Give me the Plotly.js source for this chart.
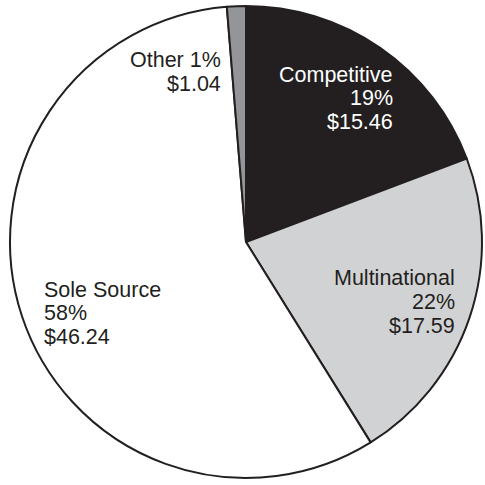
<!DOCTYPE html>
<html>
<head>
<meta charset="utf-8">
<script src="https://cdn.plot.ly/plotly-3.0.1.min.js"></script>
<style>html,body{margin:0;padding:0;background:#fff;}#chart{width:485px;height:485px;}</style>
</head>
<body>
<div id="chart"></div>
<script>
// Data
const categories = ["Competitive", "Multinational", "Sole Source", "Other"];
const values = [15.46, 17.59, 46.24, 1.04];
const pctLabels = ["19%", "22%", "58%", "1%"];
const colors = ["#231f20", "#d1d2d4", "#ffffff", "#939598"];

const W = 485, H = 485;

// label layout: [anchor x px, xanchor, baselines px, text color, lines]
const labelLayout = [
  {x: 394, xa: "right", ys: [82, 106, 129], color: "#ffffff",
   lines: [categories[0], pctLabels[0], "$" + values[0].toFixed(2)]},
  {x: 456, xa: "right", ys: [285, 309, 333], color: "#231f20",
   lines: [categories[1], pctLabels[1], "$" + values[1].toFixed(2)]},
  {x: 43, xa: "left", ys: [297, 320, 344], color: "#231f20",
   lines: [categories[2], pctLabels[2], "$" + values[2].toFixed(2)]},
  {x: 222, xa: "right", ys: [67, 91], color: "#231f20",
   lines: [categories[3] + " " + pctLabels[3], "$" + values[3].toFixed(2)]}
];

const FS = 21.5;
const annotations = [];
labelLayout.forEach(l => {
  l.lines.forEach((t, i) => {
    annotations.push({
      xref: "paper", yref: "paper",
      x: l.x / W, y: 1 - (l.ys[i] - 7.5) / H,
      xanchor: l.xa, yanchor: "middle",
      text: t, showarrow: false, borderpad: 0,
      font: {family: "Liberation Sans, Arial, sans-serif", size: FS, color: l.color}
    });
  });
});

const trace = {
  type: "pie",
  labels: categories,
  values: values,
  sort: false,
  direction: "clockwise",
  rotation: 0,
  marker: {colors: colors, line: {color: "#231f20", width: 2}},
  textinfo: "none",
  hoverinfo: "none",
  showlegend: false,
  domain: {x: [10 / W, 482 / W], y: [7 / H, 479 / H]}
};

Plotly.newPlot("chart", [trace], {
  width: W, height: H,
  margin: {l: 0, r: 0, t: 0, b: 0},
  paper_bgcolor: "#ffffff",
  showlegend: false,
  annotations: annotations
}, {staticPlot: true});
</script>
</body>
</html>
